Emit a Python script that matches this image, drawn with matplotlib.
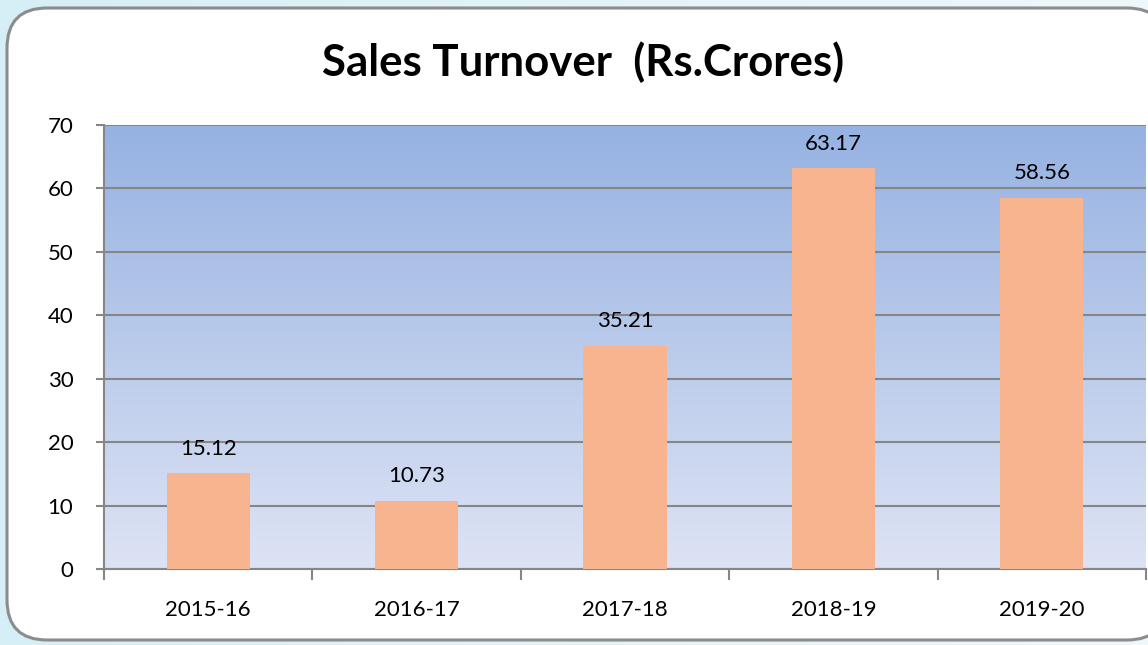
import numpy as np
import matplotlib.pyplot as plt
from matplotlib.patches import FancyBboxPatch
from matplotlib.colors import LinearSegmentedColormap

years = ['2015-16', '2016-17', '2017-18', '2018-19', '2019-20']
turnover = [15.12, 10.73, 35.21, 63.17, 58.56]
yticks = [0, 10, 20, 30, 40, 50, 60, 70]

plt.rcParams['font.family'] = ['Lato', 'DejaVu Sans']

W, H = 1148, 645
fig = plt.figure(figsize=(W / 100, H / 100), dpi=100)

# slide background gradient
bg = fig.add_axes([0, 0, 1, 1], zorder=-10)
bg_cmap = LinearSegmentedColormap.from_list('bg', ['#d6eef5', '#eef8fb'])
bg.imshow(np.linspace(0, 1, 256).reshape(1, -1), cmap=bg_cmap, aspect='auto',
          extent=[0, 1, 0, 1])
bg.set_xlim(0, 1)
bg.set_ylim(0, 1)
bg.axis('off')

# rounded white panel
panel = FancyBboxPatch((7 / W, 5 / H), 1160 / W, 632 / H,
                       boxstyle='round,pad=0,rounding_size=0.035',
                       transform=bg.transAxes, facecolor='white',
                       edgecolor='#8c8c8c', linewidth=2.2,
                       mutation_aspect=W / H)
bg.add_patch(panel)

ax = fig.add_axes([104 / W, 76 / H, 1042 / W, 444 / H])
x = np.arange(len(years))

# plot area gradient
area_cmap = LinearSegmentedColormap.from_list('area', ['#dde3f4', '#96b2e2'])
ax.imshow(np.linspace(0, 1, 256).reshape(-1, 1), cmap=area_cmap, aspect='auto',
          origin='lower', extent=[-0.5, len(years) - 0.5, 0, 70], zorder=0)

ax.bar(x, turnover, width=0.4, color='#f8b48e', zorder=3)
for xi, v in zip(x, turnover):
    ax.text(xi, v + 2.3, f'{v:.2f}', ha='center', va='bottom', fontsize=16,
            color='black', zorder=4)

ax.set_xlim(-0.5, len(years) - 0.5)
ax.set_ylim(0, 70)
ax.set_yticks(yticks)
ax.set_yticklabels([str(t) for t in yticks], fontsize=16)
ax.yaxis.grid(True, color='#868686', linewidth=1.5, zorder=1)
ax.set_axisbelow(False)

ax.set_xticks(x)
ax.set_xticklabels(years, fontsize=16)
ax.tick_params(axis='x', length=0, pad=22)
ax.set_xticks(np.arange(len(years) + 1) - 0.5, minor=True)
ax.tick_params(axis='x', which='minor', length=8, width=1.5, color='#868686',
               direction='out')
ax.tick_params(axis='y', length=6, width=1.5, color='#868686', pad=16)

for s in ['top', 'right']:
    ax.spines[s].set_visible(False)
for s in ['left', 'bottom']:
    ax.spines[s].set_color('#868686')
    ax.spines[s].set_linewidth(1.5)

fig.text(583 / W, 1 - 62 / H, 'Sales Turnover  (Rs.Crores)', ha='center',
         va='center', fontsize=31.5, fontweight='bold')

fig.savefig('out.png', dpi=100)
